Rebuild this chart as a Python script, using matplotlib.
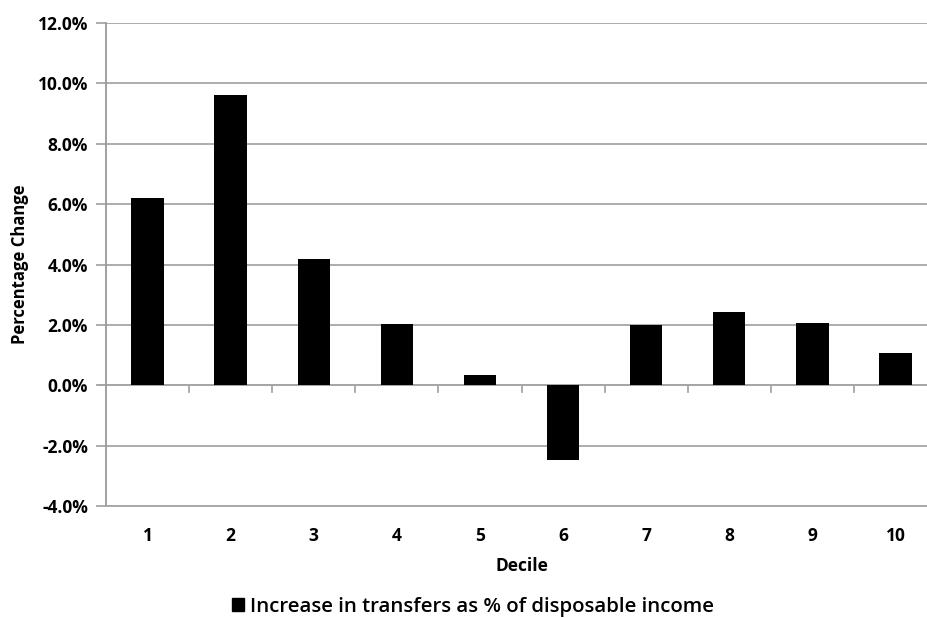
import matplotlib
matplotlib.use("Agg")
import matplotlib.pyplot as plt
from matplotlib.ticker import FuncFormatter, MultipleLocator
from matplotlib.patches import Patch

deciles = ["1", "2", "3", "4", "5", "6", "7", "8", "9", "10"]
values = [6.2, 9.6, 4.17, 2.02, 0.33, -2.47, 1.98, 2.41, 2.05, 1.08]
series_name = "Increase in transfers as % of disposable income"

plt.rcParams['font.family'] = ['Open Sans', 'DejaVu Sans']

fig = plt.figure(figsize=(9.28, 6.18), dpi=100)
W, H = 928, 618
left, right, top, bottom = 106, 937, 23, 506
ax = fig.add_axes([left / W, 1 - bottom / H, (right - left) / W, (bottom - top) / H])

x = list(range(1, len(deciles) + 1))
ax.bar(x, values, width=0.39, color='black', zorder=3)

grid_c = '#a6a6a6'
ax.set_xlim(0.5, len(deciles) + 0.5)
ax.set_ylim(-4, 12)
ax.yaxis.set_major_locator(MultipleLocator(2))
ax.yaxis.set_major_formatter(FuncFormatter(lambda v, p: f"{v:.1f}%"))
ax.grid(axis='y', color=grid_c, linewidth=1.3, zorder=0)
ax.set_axisbelow(True)

for s in ['top', 'right']:
    ax.spines[s].set_visible(False)
ax.spines['left'].set_color('#999999')
ax.spines['left'].set_linewidth(1.3)
ax.spines['bottom'].set_color(grid_c)
ax.spines['bottom'].set_linewidth(1.3)

# zero axis line with category boundary ticks
ax.axhline(0, color=grid_c, linewidth=1.3, zorder=2)
for b in range(1, len(deciles)):
    ax.plot([b + 0.5, b + 0.5], [0, -0.23], color=grid_c, linewidth=1.3, zorder=2, clip_on=False)
ax.plot([0.5 - 0.085, 0.5], [0, 0], color=grid_c, linewidth=1.3, clip_on=False)

ax.set_xticks(x)
ax.set_xticklabels(deciles)
ax.tick_params(axis='x', length=0, pad=15, labelsize=12.5)
ax.tick_params(axis='y', length=7, color=grid_c, width=1.3, pad=6, labelsize=12.5)
for lab in ax.get_xticklabels() + ax.get_yticklabels():
    lab.set_fontweight('bold')

ax.set_xlabel("Decile", fontsize=12.5, fontweight='bold', labelpad=9)
ax.set_ylabel("Percentage Change", fontsize=12, fontweight='bold', labelpad=6)

handle = Patch(facecolor='black', edgecolor='black')
fig.legend([handle], [series_name], loc='center', bbox_to_anchor=(473 / W, 1 - 607 / H),
           frameon=False, handlelength=0.6, handleheight=0.6, handletextpad=0.3,
           prop={'size': 14.7, 'weight': 'semibold'})

fig.savefig("out.png", dpi=100)
